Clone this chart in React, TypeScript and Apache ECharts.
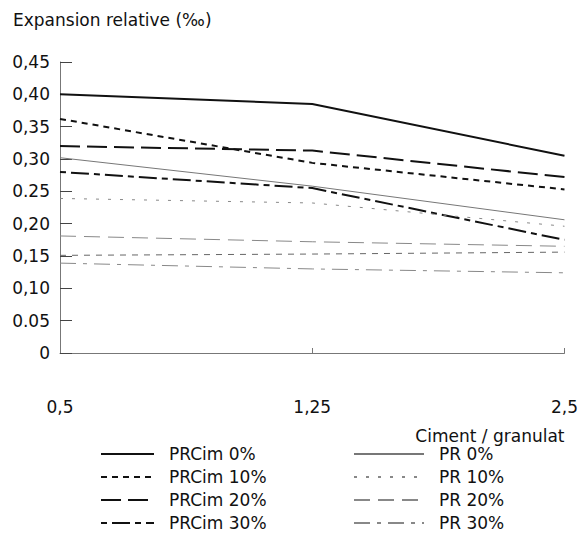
import React, { useEffect, useRef } from "react";
import * as echarts from "echarts";

const categories = ["0,5", "1,25", "2,5"];
const yTickLabels: Record<string, string> = {
  "0": "0",
  "0.05": "0.05",
  "0.1": "0,10",
  "0.15": "0,15",
  "0.2": "0,20",
  "0.25": "0.25",
  "0.3": "0,30",
  "0.35": "0,35",
  "0.4": "0,40",
  "0.45": "0,45",
};

const prcim0 = [0.4, 0.385, 0.305];
const prcim10 = [0.362, 0.294, 0.253];
const prcim20 = [0.32, 0.313, 0.272];
const prcim30 = [0.28, 0.255, 0.175];
const pr0 = [0.302, 0.258, 0.206];
const pr10 = [0.239, 0.232, 0.196];
const pr20 = [0.181, 0.172, 0.165];
const prExtra = [0.151, 0.153, 0.156];
const pr30 = [0.139, 0.13, 0.124];

const FONT = "DejaVu Sans";

export default function App() {
  const ref = useRef<HTMLDivElement>(null);
  useEffect(() => {
    const chart = echarts.init(ref.current!, null, { renderer: "svg" });
    const mk = (
      name: string,
      data: number[],
      color: string,
      width: number,
      type: any
    ) => ({
      name,
      type: "line",
      data,
      symbol: "none",
      showSymbol: false,
      itemStyle: { color },
      lineStyle: { color, width, type },
    });
    const legendCommon = {
      orient: "vertical" as const,
      itemHeight: 14,
      itemGap: 3,
      padding: 0,
      height: 120,
      itemStyle: { opacity: 0 },
      textStyle: {
        fontFamily: FONT,
        fontSize: 17,
        color: "#111",
        lineHeight: 20,
        padding: [0, 0, 0, 10],
      },
    };
    chart.setOption({
      animation: false,
      backgroundColor: "#fff",
      textStyle: { fontFamily: FONT },
      grid: { left: 60, right: 16, top: 62, bottom: 180 },
      legend: [
        {
          ...legendCommon,
          left: 100,
          top: 444,
          itemWidth: 53,
          data: ["PRCim 0%", "PRCim 10%", "PRCim 20%", "PRCim 30%"],
        },
        {
          ...legendCommon,
          left: 353,
          top: 444,
          itemWidth: 70,
          data: ["PR 0%", "PR 10%", "PR 20%", "PR 30%"],
        },
      ],
      xAxis: {
        type: "category",
        data: categories,
        boundaryGap: false,
        name: "Ciment / granulat",
        nameLocation: "end",
        nameGap: 0,
        nameTextStyle: {
          fontFamily: FONT,
          fontSize: 17,
          color: "#111",
          align: "right",
          verticalAlign: "top",
          padding: [74, 0, 0, 0],
        },
        axisLine: { lineStyle: { color: "#777", width: 1 } },
        axisTick: { inside: true, length: 5, lineStyle: { color: "#777" } },
        axisLabel: {
          fontFamily: FONT,
          fontSize: 17,
          color: "#111",
          margin: 45,
        },
        splitLine: { show: false },
      },
      yAxis: {
        type: "value",
        min: 0,
        max: 0.45,
        interval: 0.05,
        name: "Expansion relative (‰)",
        nameLocation: "end",
        nameGap: 34,
        nameTextStyle: {
          fontFamily: FONT,
          fontSize: 17,
          color: "#111",
          align: "left",
          padding: [0, 0, 0, -47],
        },
        axisLine: { show: true, lineStyle: { color: "#777", width: 1 } },
        axisTick: { show: true, inside: true, length: 12, lineStyle: { color: "#444" } },
        axisLabel: {
          fontFamily: FONT,
          fontSize: 17,
          color: "#111",
          margin: 10,
          formatter: (v: number) => yTickLabels[String(Math.round(v * 100) / 100)] ?? String(v),
        },
        splitLine: { show: false },
      },
      series: [
        mk("PRCim 0%", prcim0, "#111", 2, "solid"),
        mk("PRCim 10%", prcim10, "#111", 2, [6, 5]),
        mk("PRCim 20%", prcim20, "#111", 2, [20, 7]),
        mk("PRCim 30%", prcim30, "#111", 2, [6, 5, 18, 5]),
        mk("PR 0%", pr0, "#777", 1, "solid"),
        mk("PR 10%", pr10, "#888", 1, [3, 9]),
        mk("PR 20%", pr20, "#888", 1, [16, 8]),
        mk("PR extra", prExtra, "#666", 1, [6, 6]),
        mk("PR 30%", pr30, "#888", 1, [16, 7, 4, 7]),
      ],
    });
    return () => chart.dispose();
  }, []);
  return <div ref={ref} style={{ width: 581, height: 533, position: "absolute", left: 0, top: 0 }} />;
}
